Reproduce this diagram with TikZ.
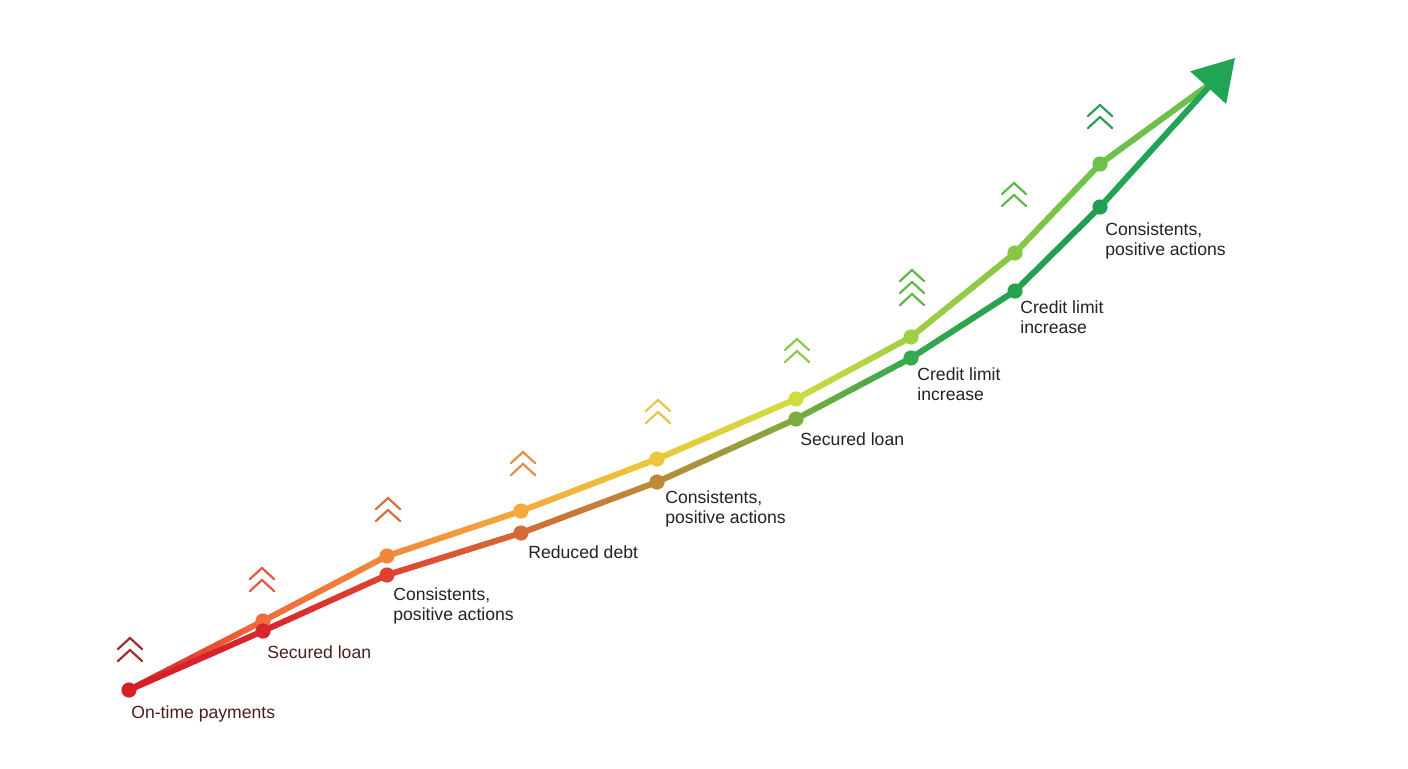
\documentclass[tikz,border=0pt]{standalone}
\usepackage{fontspec}
\setmainfont{Liberation Sans}
\usetikzlibrary{calc,arrows.meta}

\definecolor{cs}{HTML}{D41F26}
\definecolor{cu1}{HTML}{F26B3A}
\definecolor{cu2}{HTML}{F0883C}
\definecolor{cu3}{HTML}{F5A93C}
\definecolor{cu4}{HTML}{E9C83C}
\definecolor{cu5}{HTML}{D0DC40}
\definecolor{cu6}{HTML}{A2CE44}
\definecolor{cu7}{HTML}{86C846}
\definecolor{cu8}{HTML}{6DC04B}
\definecolor{cl1}{HTML}{D8262D}
\definecolor{cl2}{HTML}{E0412F}
\definecolor{cl3}{HTML}{D46A38}
\definecolor{cl4}{HTML}{BC8A38}
\definecolor{cl5}{HTML}{7DAC3E}
\definecolor{cl6}{HTML}{36A84F}
\definecolor{cl7}{HTML}{25A250}
\definecolor{cl8}{HTML}{1F9E50}
\definecolor{carrow}{HTML}{22A455}
\definecolor{cv1}{HTML}{A62B2B}
\definecolor{cv2}{HTML}{E05A3C}
\definecolor{cv3}{HTML}{D9703C}
\definecolor{cv4}{HTML}{E38F45}
\definecolor{cv5}{HTML}{E6C64A}
\definecolor{cv6}{HTML}{90C84C}
\definecolor{cv7}{HTML}{5DB84C}
\definecolor{cv8}{HTML}{5AB84C}
\definecolor{cv9}{HTML}{2E9E55}
\definecolor{cmaroon}{HTML}{4A1D1D}
\definecolor{cink}{HTML}{222222}

\begin{document}
\begin{tikzpicture}[x=0.5pt,y=-0.5pt,>=Stealth]
  \tikzstyle{track}=[line width=3pt, line cap=round]
  \tikzstyle{dot}=[circle, inner sep=0pt, minimum size=7.6pt]
  \tikzstyle{chev}=[line width=1.1pt, line cap=round, line join=miter]
  \tikzstyle{lbl}=[anchor=base west, inner sep=0pt, align=left,
    font=\fontsize{8.8}{10}\selectfont, text=cink]

  \useasboundingbox (0,0) rectangle (1408,768);

  \coordinate (s) at (129,690);
  \coordinate (u1) at (263,621);
  \coordinate (u2) at (387,556);
  \coordinate (u3) at (521,511);
  \coordinate (u4) at (657,459);
  \coordinate (u5) at (796,399);
  \coordinate (u6) at (911,337);
  \coordinate (u7) at (1015,253);
  \coordinate (u8) at (1100,164);
  \coordinate (l1) at (263,631);
  \coordinate (l2) at (387,575);
  \coordinate (l3) at (521,533);
  \coordinate (l4) at (657,482);
  \coordinate (l5) at (796,419);
  \coordinate (l6) at (911,358);
  \coordinate (l7) at (1015,291);
  \coordinate (l8) at (1100,207);
  \coordinate (join) at (1207,86);
  \coordinate (tip) at (1235,58);

  \foreach \a/\b/\ca/\cb in {s/u1/cs/cu1, u1/u2/cu1/cu2, u2/u3/cu2/cu3, u3/u4/cu3/cu4,
      u4/u5/cu4/cu5, u5/u6/cu5/cu6, u6/u7/cu6/cu7, u7/u8/cu7/cu8, u8/join/cu8/cu8,
      s/l1/cs/cl1, l1/l2/cl1/cl2, l2/l3/cl2/cl3, l3/l4/cl3/cl4, l4/l5/cl4/cl5,
      l5/l6/cl5/cl6, l6/l7/cl6/cl7, l7/l8/cl7/cl8}
    \foreach \i in {0,...,9}{
      \pgfmathtruncatemacro\p{\i*10+5}
      \draw[track, \cb!\p!\ca] ($(\a)!\i/10!(\b)$) -- ($(\a)!\i/10+0.1!(\b)$);
    }
  \draw[track, line cap=butt, carrow, -{Triangle[length=20pt,width=23.5pt]}] (l8) -- (tip);

  \node[dot, fill=cs] (ds) at (s) {};
  \node[dot, fill=cu1] (du1) at (u1) {};
  \node[dot, fill=cu2] (du2) at (u2) {};
  \node[dot, fill=cu3] (du3) at (u3) {};
  \node[dot, fill=cu4] (du4) at (u4) {};
  \node[dot, fill=cu5] (du5) at (u5) {};
  \node[dot, fill=cu6] (du6) at (u6) {};
  \node[dot, fill=cu7] (du7) at (u7) {};
  \node[dot, fill=cu8] (du8) at (u8) {};
  \node[dot, fill=cl1] (dl1) at (l1) {};
  \node[dot, fill=cl2] (dl2) at (l2) {};
  \node[dot, fill=cl3] (dl3) at (l3) {};
  \node[dot, fill=cl4] (dl4) at (l4) {};
  \node[dot, fill=cl5] (dl5) at (l5) {};
  \node[dot, fill=cl6] (dl6) at (l6) {};
  \node[dot, fill=cl7] (dl7) at (l7) {};
  \node[dot, fill=cl8] (dl8) at (l8) {};

  \foreach \x/\y/\n/\c in {130/638/2/cv1, 262/568/2/cv2, 388/498/2/cv3, 523/452/2/cv4,
      658/400/2/cv5, 797/339/2/cv6, 912/270/3/cv7, 1014/183/2/cv8, 1100/105/2/cv9}
    \foreach \k in {1,...,\n}
      \draw[chev, \c] (\x-12,\y+12*\k-1) -- (\x,\y+12*\k-12) -- (\x+12,\y+12*\k-1);

  \node[lbl, text=cmaroon] (t0) at (131,718) {On-time payments};
  \node[lbl, text=cmaroon] (t1) at (267,658) {Secured loan};
  \node[lbl] (t2) at (393,620) {Consistents,\\positive actions};
  \node[lbl] (t3) at (528,558) {Reduced debt};
  \node[lbl] (t4) at (665,523) {Consistents,\\positive actions};
  \node[lbl] (t5) at (800,445) {Secured loan};
  \node[lbl] (t6) at (917,400) {Credit limit\\increase};
  \node[lbl] (t7) at (1020,333) {Credit limit\\increase};
  \node[lbl] (t8) at (1105,255) {Consistents,\\positive actions};
\end{tikzpicture}
\end{document}
